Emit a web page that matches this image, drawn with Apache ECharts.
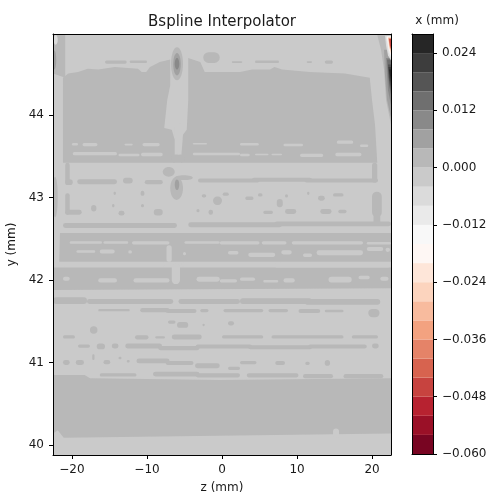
<!DOCTYPE html>
<html>
<head>
<meta charset="utf-8">
<style>html,body{margin:0;padding:0;background:#fff}#c{width:489px;height:493px}</style>
<script src="https://cdn.jsdelivr.net/npm/echarts@6/dist/echarts.min.js"></script>
</head>
<body>
<div id="c"></div>
<script>
// Colour bar: level edges and band colours (RdGy, 22 levels)
const levelEdges = [-0.06,-0.056,-0.052,-0.048,-0.044,-0.04,-0.036,-0.032,-0.028,-0.024,-0.02,-0.016,-0.012,-0.008,-0.004,0,0.004,0.008,0.012,0.016,0.02,0.024,0.028];
const levelColors = ['#780522','#9a1027','#b72230','#c7433f','#d7634f','#e58368','#f3a280','#f8bb9e','#fcd4be','#fee6d9','#fef7f4','#f8f8f8','#eaeaea','#dbdbdb','#cacaca','#b8b8b8','#a1a1a1','#898989','#6f6f6f','#555555','#3d3d3d','#262626'];
const zTicks = [-20,-10,0,10,20];
const yTicks = [40,41,42,43,44];
const barTicks = [-0.06,-0.048,-0.036,-0.024,-0.012,0,0.012,0.024];
const zRange = [-22.53,22.53];
const yRange = [39.88,44.98];
const baseLevel = 14, upperLevel = 15;

// Large regions of the 0..0.004 level, as outlines [z,y, z,y, ...]
const upperRegions = [
 [-22.53,44.98,-20.9,44.98,-20.9,44.45,-22.53,44.5],
 [-21.2,44.45,-20.5,44.5,-19.2,44.52,-17.9,44.56,-16.5,44.55,-14.3,44.58,-11.2,44.56,-10.7,44.52,-10.1,44.52,-9.6,44.58,-8.3,44.64,-6.9,44.67,-6.9,44.36,-7.3,44.18,-7.7,43.84,-6.7,43.82,-6.3,43.7,-6.3,43.42,-21.2,43.42],
 [-4.5,44.69,-2.9,44.64,-2.3,44.52,2.4,44.52,4,44.55,6.4,44.55,7,44.58,8,44.55,11.7,44.52,16.4,44.5,19.7,44.45,20,44.18,20.4,43.88,20.7,43.42,-5.5,43.42,-5.3,43.64,-5.2,43.76,-4.7,43.82,-4.5,44.18],
 [-21.6,42.57,22.53,42.57,22.53,42.22,-21.7,42.22],
 [-22.4,42.15,22.53,42.15,22.53,41.9,-22.53,41.88],
 [-22.53,40.85,-18.3,40.85,-17.6,40.81,-0.3,40.79,22.53,40.81,22.53,40.14,-21.1,40.09,-21.9,40.18,-22.53,40.14]
];

// Thin bands of the 0..0.004 level: z0, z1, y0, y1
const upperBandsA = [
 [-15.6,-12.7,44.62,44.66],[-12.3,-10,44.63,44.66],[1.3,2.7,44.63,44.65],[4.4,7.6,44.63,44.66],[11.3,12,44.63,44.65],[13.7,14.8,44.62,44.66],
 [-2.5,-0.3,44.63,44.76],[-6.8,-5,43.42,43.52],[20,20.7,43.18,43.42],[-20.9,-20.3,43.15,43.42],
 [-20.9,-19.9,43.15,43.22],[-19.3,-14,43.16,43.22],[-13.2,-11.9,43.17,43.24],[-10.3,-7.9,43.16,43.21],[-3.2,5,43.18,43.23],[4,12,43.19,43.24],[11,20.8,43.18,43.23],
 [-20.9,-20.3,42.79,43.05],[-20.9,-18.7,42.79,42.85],
 [-17.45,-16.75,42.83,42.91],[-14.45,-14.15,43.03,43.07],[-10.85,-10.35,43.02,43.08],[-14.65,-14.35,42.88,42.92],[-13.8,-13,42.78,42.84],[-10.8,-10.4,42.88,42.92],[-9.1,-7.9,42.78,42.86],[-3.4,-3,42.82,42.86],[-1.8,-1.2,42.79,42.85],[-2.7,-2.1,43,43.04],[-1.2,0,42.91,43.01],[0.1,0.9,43.02,43.06],
 [3.1,4.2,42.97,43.01],[4.8,5.4,43.01,43.05],[7.3,8.1,42.88,42.98],[8.4,8.8,43,43.04],[11.35,11.65,43.03,43.07],[12.8,13.7,42.96,43.02],[14.8,16.2,43.01,43.05],[5.5,6.8,42.8,42.84],[8.4,9.9,42.8,42.86],[13.1,14.6,42.8,42.86],[15.5,16.6,42.81,42.85],
 [20,21.3,42.76,43.07],[20.2,21.1,42.66,42.85],
 [-21.2,-6,42.63,42.69],[-4.5,8,42.64,42.7],[7,22.53,42.65,42.71]
];

// Light streaks of the -0.004..0 level cut into the regions above
const lowerBands = [
 [-20,-19.2,43.63,43.66],[-18.6,-16.6,43.62,43.66],[-13,-11.9,43.63,43.65],[-10.6,-8.3,43.62,43.66],[-3.9,-2,43.64,43.66],[2.4,4.9,43.63,43.66],[8.2,10.8,43.62,43.65],[15.3,17.5,43.65,43.69],[18.4,19.5,43.61,43.64],
 [-19.9,-14,43.51,43.55],[-13.8,-11,43.5,43.53],[-10.8,-7.9,43.5,43.54],[-3.9,2.4,43.51,43.54],[2.4,3.7,43.5,43.53],[4.4,6.2,43.51,43.53],[6.6,8,43.51,43.53],[10.4,13.5,43.49,43.53],[15.1,18.6,43.5,43.54],
 [-6,-5.6,43.52,43.9],[-6.3,-5.3,43.7,43.9],
 [-20.3,-16,42.44,42.47],[-15.8,-12.5,42.44,42.47],[-12,-7,42.43,42.47],[-5,-0.3,42.44,42.47],[-0.3,5,42.43,42.47],[5.3,8.6,42.43,42.47],[9.3,18.8,42.43,42.47],[19.3,22.53,42.43,42.46],
 [-19.4,-16.9,42.33,42.36],[-16.3,-14.3,42.32,42.37],[-12.5,-12,42.32,42.36],[-5.2,-4.8,42.3,42.34],[0.8,2.2,42.31,42.35],[3.5,7.1,42.28,42.33],[7.9,9.3,42.31,42.36],[10.8,12,42.28,42.32],[12.6,18.8,42.3,42.36],[19.3,21.5,42.35,42.4],[21.8,22.4,42.34,42.39],
 [-7.4,-6.7,42.22,42.42],
 [-21.2,-7.6,42.16,42.21],[-5.4,8,42.16,42.21],[7,22.4,42.15,42.2],[-6.7,-5.6,41.95,42.2],
 [-21.2,-20.3,41.99,42.04],[-16.5,-14,41.97,42.02],[-11.8,-7,41.97,42.02],[-3.4,-0.3,41.98,42.04],[-0.3,2,41.97,42.01],[2.4,4.4,41.99,42.03],[5.5,7.5,41.97,42],[8.2,9.7,41.97,42.02],[14.2,17.3,41.97,42.04],[18.2,19.7,42.01,42.05],[21.1,22.2,41.99,42.04],
 [14.8,15.6,40.09,40.2]
];

// Lower half: streaks and dots of the 0..0.004 level
const upperBandsB = [
 [-22.53,-18,41.71,41.79],[-18,-6.5,41.71,41.77],[-5.8,2.4,41.71,41.77],[2.4,12,41.71,41.78],[11,21.1,41.7,41.77],
 [-16.5,-12.3,41.62,41.65],[-10.9,-7,41.61,41.66],[-7.5,-3.4,41.6,41.65],[-2.9,-1.8,41.61,41.65],[0.2,5.5,41.61,41.65],[6.2,8.8,41.61,41.65],[10.2,13.1,41.6,41.65],[13.7,16.2,41.61,41.64],[19.5,21,41.55,41.65],
 [-7.2,-6.2,41.47,41.51],[-6,-4.5,41.42,41.49],[-17.6,-16.6,41.35,41.44],[0.8,1.6,41.45,41.5],[-2.6,-2.3,41.44,41.47],
 [-21.2,-19.6,41.29,41.33],[-11.6,-9.8,41.28,41.33],[-8.9,-7.6,41.29,41.32],[-6.7,-2.7,41.28,41.34],[0,5.5,41.29,41.33],[6.6,16.2,41.29,41.33],[17.3,20.8,41.29,41.33],
 [-19.2,-17.6,41.18,41.22],[-16.7,-15.6,41.16,41.23],[-14.7,-13.8,41.17,41.23],[-12.9,-8,41.17,41.23],[-8.5,-3,41.15,41.2],[-3.5,4,41.17,41.22],[3.5,12,41.16,41.21],[11.5,19.3,41.17,41.22],[20,20.9,41.17,41.23],
 [-21.2,-20.3,40.97,41.03],[-19.5,-18.4,40.97,41.03],[-15.8,-14.9,40.98,41.03],[-11.4,-7,40.99,41.05],[-7.5,-3.8,40.97,41.02],[-3.6,-0.3,40.93,40.99],[0.8,2.4,40.91,40.95],[2.4,4.6,40.98,41.02],[7.1,8.4,40.97,41.02],[11.1,11.7,40.97,41.01],[13.7,14.4,40.96,41.03],[-17.3,-17,41.03,41.1],[-13.8,-13.4,41.04,41.07],[-12.7,-12.3,41,41.03],
 [-16.3,-11.4,40.83,40.87],[-9.2,-3,40.83,40.89],[-3.5,2.4,40.82,40.87],[3.3,10.2,40.82,40.87],[10.8,14.8,40.81,40.86],[16.2,21.5,40.81,40.86]
];

// Isolated peaks: level index, z0, z1, y0, y1
const peaks = [
 [15,-6.8,-5.2,44.42,44.82],[16,-6.5,-5.5,44.48,44.75],[17,-6.3,-5.7,44.55,44.69],
 [15,-6.9,-5.2,42.97,43.25],[16,-6.3,-5.7,43.09,43.22],[15,-7.9,-6.3,43.25,43.37],[15,-6.3,-3.9,43.21,43.27],
 [15,-22.6,-21.9,42.76,43.25],[16,-22.6,-22.1,44.55,44.78],[13,-22.45,-21.9,44.85,44.97]
];

// Corner structure at the far right: level index then outline
const cornerLevels = [15,16,17,18,19,20,21,13,12,10,8,5,3];
const cornerOutlines = [
 [20.67,44.98,22.53,44.98,22.53,43.88,21.87,44.18,21.6,44.55,21.2,44.79],
 [21.6,44.79,22.53,44.79,22.53,43.96,22,44.18,21.73,44.48],
 [21.87,44.69,22.53,44.69,22.53,44.12,22.13,44.3],
 [22,44.67,22.53,44.67,22.53,44.24,22.27,44.36],
 [22.13,44.61,22.53,44.61,22.53,44.3,22.27,44.42],
 [22.2,44.58,22.53,44.58,22.53,44.36,22.33,44.45],
 [22.3,44.55,22.53,44.55,22.53,44.42,22.4,44.48],
 [21.73,44.96,22.53,44.96,22.53,44.66,22.13,44.72,21.87,44.84],
 [21.87,44.95,22.53,44.95,22.53,44.69,22.2,44.76],
 [22,44.95,22.53,44.95,22.53,44.72,22.27,44.79],
 [22.13,44.94,22.53,44.94,22.53,44.74,22.27,44.82],
 [22.2,44.93,22.53,44.93,22.53,44.78,22.33,44.84],
 [22.3,44.92,22.53,44.92,22.53,44.8,22.4,44.84]
];

const FONT = 'DejaVu Sans';
const INK = '#1a1a1a';
const minus = s => String(s).replace('-', '\u2212');

function outlineSeries(outlines, levels, z) {
  return {
    type: 'custom', coordinateSystem: 'cartesian2d', xAxisIndex: 0, yAxisIndex: 0, clip: true, z, silent: true,
    data: outlines.map((o, i) => [o[0], o[1], i]),
    encode: { x: 0, y: 1 },
    renderItem(params, api) {
      const o = outlines[params.dataIndex], pts = [];
      for (let i = 0; i < o.length; i += 2) pts.push(api.coord([o[i], o[i + 1]]));
      return { type: 'polygon', shape: { points: pts }, style: { fill: levelColors[levels[params.dataIndex]] } };
    }
  };
}
function bandSeries(rows, level, z) {
  return {
    type: 'custom', coordinateSystem: 'cartesian2d', xAxisIndex: 0, yAxisIndex: 0, clip: true, z, silent: true,
    data: rows, encode: { x: [0, 1], y: [2, 3] },
    renderItem(params, api) {
      const a = api.coord([api.value(0), api.value(3)]), b = api.coord([api.value(1), api.value(2)]);
      const w = b[0] - a[0], h = b[1] - a[1];
      return { type: 'rect', shape: { x: a[0], y: a[1], width: w, height: h, r: Math.min(w, h) / 2 }, style: { fill: levelColors[level] } };
    }
  };
}
const peakSeries = {
  type: 'custom', coordinateSystem: 'cartesian2d', xAxisIndex: 0, yAxisIndex: 0, clip: true, z: 7, silent: true,
  data: peaks, encode: { x: [1, 2], y: [3, 4] },
  renderItem(params, api) {
    const a = api.coord([api.value(1), api.value(4)]), b = api.coord([api.value(2), api.value(3)]);
    return { type: 'ellipse', shape: { cx: (a[0] + b[0]) / 2, cy: (a[1] + b[1]) / 2, rx: (b[0] - a[0]) / 2, ry: (b[1] - a[1]) / 2 }, style: { fill: levelColors[api.value(0)] } };
  }
};
const backgroundSeries = bandSeries([[zRange[0], zRange[1], yRange[0], yRange[1]]], baseLevel, 2);
backgroundSeries.renderItem = function (params, api) {
  const a = api.coord([api.value(0), api.value(3)]), b = api.coord([api.value(1), api.value(2)]);
  return { type: 'rect', shape: { x: a[0], y: a[1], width: b[0] - a[0], height: b[1] - a[1] }, style: { fill: levelColors[baseLevel] } };
};
const colorbarRows = levelColors.map((c, i) => [0, 1, levelEdges[i], levelEdges[i + 1]]);
const colorbarSeries = {
  type: 'custom', coordinateSystem: 'cartesian2d', xAxisIndex: 2, yAxisIndex: 2, z: 2, silent: true,
  data: colorbarRows, encode: { x: [0, 1], y: [2, 3] },
  renderItem(params, api) {
    const a = api.coord([0, api.value(3)]), b = api.coord([1, api.value(2)]);
    return { type: 'rect', shape: { x: a[0], y: a[1], width: b[0] - a[0], height: b[1] - a[1] }, style: { fill: levelColors[params.dataIndex] } };
  }
};

const lineStyle = { color: '#000', width: 1 };
const frameAxis = (gridIndex, position, min, max) => ({
  type: 'value', gridIndex, position, min, max, z: 10, silent: true,
  axisLine: { show: true, onZero: false, lineStyle }, axisTick: { show: false }, axisLabel: { show: false }, splitLine: { show: false }
});
const tickAxis = (gridIndex, position, min, max, ticks, fmt, name, gap, margin) => ({
  type: 'value', gridIndex, position, min, max, z: 10, silent: true,
  name, nameLocation: 'middle', nameGap: gap, nameTextStyle: { fontFamily: FONT, fontSize: 12, color: INK },
  axisLine: { show: true, onZero: false, lineStyle },
  axisTick: { show: true, length: 4, lineStyle, customValues: ticks },
  axisLabel: { show: true, fontFamily: FONT, fontSize: 12, color: INK, margin, customValues: ticks, formatter: fmt, hideOverlap: false },
  splitLine: { show: false }
});

const chart = echarts.init(document.getElementById('c'), null, { renderer: 'canvas' });
chart.setOption({
  animation: false,
  backgroundColor: '#fff',
  title: [
    { text: 'Bspline Interpolator', left: 217, top: 10, textAlign: 'center', textStyle: { fontFamily: FONT, fontSize: 15, fontWeight: 'normal', color: INK } },
    { text: 'x (mm)', left: 432, top: 10, textAlign: 'center', textStyle: { fontFamily: FONT, fontSize: 12, fontWeight: 'normal', color: INK } }
  ],
  grid: [
    { left: 53, top: 34, width: 338, height: 421, outerBoundsMode: 'none' },
    { left: 412, top: 34, width: 21, height: 420, outerBoundsMode: 'none' }
  ],
  xAxis: [
    tickAxis(0, 'bottom', zRange[0], zRange[1], zTicks, v => minus(v), 'z (mm)', 27, 9),
    frameAxis(0, 'top', zRange[0], zRange[1]),
    frameAxis(1, 'bottom', 0, 1),
    frameAxis(1, 'top', 0, 1)
  ],
  yAxis: [
    tickAxis(0, 'left', yRange[0], yRange[1], yTicks, v => String(v), 'y (mm)', 31, 9),
    frameAxis(0, 'right', yRange[0], yRange[1]),
    tickAxis(1, 'right', levelEdges[0], levelEdges[levelEdges.length - 1], barTicks, v => minus(Number(v).toFixed(3)), '', 0, 9),
    frameAxis(1, 'left', levelEdges[0], levelEdges[levelEdges.length - 1])
  ],
  series: [
    backgroundSeries,
    outlineSeries(upperRegions, upperRegions.map(() => upperLevel), 3),
    bandSeries(upperBandsA, upperLevel, 4),
    bandSeries(lowerBands, baseLevel, 5),
    bandSeries(upperBandsB, upperLevel, 6),
    peakSeries,
    outlineSeries(cornerOutlines, cornerLevels, 8),
    colorbarSeries
  ]
});
</script>
</body>
</html>
